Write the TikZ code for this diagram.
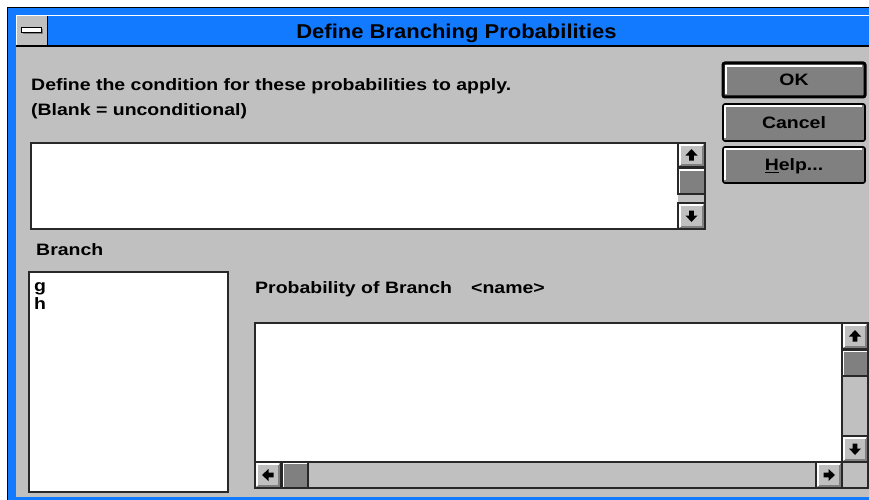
\documentclass[tikz,border=0pt]{standalone}
\usepackage{fontspec}
\setmainfont{Liberation Sans}[FakeStretch=1.18]
\newfontfamily\ttlfont{Liberation Sans}[FakeStretch=1.1]
\definecolor{wgray}{RGB}{192,192,192}
\definecolor{dgray}{RGB}{128,128,128}
\definecolor{tblue}{RGB}{18,122,255}
\definecolor{edgec}{RGB}{40,40,40}
% raised light-gray scroll button
\newcommand\sbtn[4]{%
  \fill[wgray] (#1,#2) rectangle (#3,#4);
  \draw[dgray,line width=2pt] (#1+2,#4-2) -- (#3-2,#4-2) -- (#3-2,#2+2);
  \draw[white,line width=2pt] (#1+2,#4-2) -- (#1+2,#2+2) -- (#3-2,#2+2);
  \draw[edgec,line width=1.4pt] (#1,#2) rectangle (#3,#4);}
% scroll thumb
\newcommand\thb[4]{%
  \fill[dgray] (#1,#2) rectangle (#3,#4);
  \draw[white,line width=1.5pt] (#1+1.5,#4-1) -- (#1+1.5,#2+1.5) -- (#3-1,#2+1.5);
  \draw[edgec,line width=1.4pt] (#1,#2) rectangle (#3,#4);}
% arrow glyph
\newcommand\arw[3]{%
  \fill[black,shift={(#1,#2)},rotate=#3] (0,-6) -- (6,0.5) -- (2.4,0.5) -- (2.4,5.5) -- (-2.4,5.5) -- (-2.4,0.5) -- (-6,0.5) -- cycle;}
% push button
\newcommand\pbtn[5]{%
  \fill[dgray,rounded corners=2pt] (#1,#2) rectangle (#3,#4);
  \draw[white,line width=2pt] (#1+#5/2+1.5,#4-3) -- (#1+#5/2+1.5,#2+#5/2+1.5) -- (#3-3,#2+#5/2+1.5);
  \draw[black,line width=#5pt,rounded corners=2pt] (#1,#2) rectangle (#3,#4);}
\begin{document}
\begin{tikzpicture}[x=1pt,y=-1pt,
  lbl/.style={font=\bfseries\fontsize{16.5}{16.5}\selectfont, anchor=base west, inner sep=0pt},
  btxt/.style={font=\bfseries\fontsize{16.5}{16.5}\selectfont, anchor=base, inner sep=0pt},
  ebox/.style={draw=edgec, line width=1.6pt, fill=white},
  sepl/.style={draw=edgec, line width=1.4pt}]
\useasboundingbox (0,0) rectangle (869,500);
\fill[white] (0,0) rectangle (869,500);
% window frame
\fill[black] (7,7) rectangle (880,510);
\fill[tblue] (8,8) rectangle (880,510);
\fill[wgray] (16,47) rectangle (880,497);
% title bar
\draw[white,line width=1pt] (16.5,46) -- (16.5,15.5) -- (880,15.5);
\fill[wgray] (17,16) rectangle (47,45);
\draw[black,line width=1.3pt] (47.5,16) -- (47.5,46);
\draw[black,line width=2pt] (16,46) -- (880,46);
\fill[dgray] (22.5,29.5) rectangle (43,34.5);
\draw[black,fill=white,line width=1pt] (21,28) rectangle (41.5,32.5);
\node[font=\ttlfont\bfseries\fontsize{20}{20}\selectfont, anchor=base, inner sep=0pt] (title) at (456.5,39) {Define Branching Probabilities};
% prompt text
\node[lbl] (l1) at (31,90.5) {Define the condition for these probabilities to apply.};
\node[lbl] (l2) at (31,115) {(Blank = unconditional)};
% condition edit box
\draw[ebox] (31,143) rectangle (705,229);
\fill[wgray] (678,143) rectangle (705,229);
\sbtn{678}{143}{705}{167}
\arw{691.5}{155}{0}
\thb{678}{168.5}{705}{194}
\sbtn{678}{203}{705}{229}
\arw{691.5}{216}{180}
\draw[ebox,fill=none] (31,143) rectangle (705,229);
% buttons
\pbtn{723}{63}{865}{97}{3}
\pbtn{723}{104}{865}{141}{1.6}
\pbtn{723}{147}{865}{183}{1.6}
\node[btxt] (ok) at (794,85.5) {OK};
\node[btxt] (cancel) at (794,128.5) {Cancel};
\node[btxt] (help) at (794,170.5) {\underline{H}elp...};
% branch list
\node[lbl] (branch) at (36,255) {Branch};
\draw[ebox] (29,272) rectangle (228,492);
\node[lbl] (g) at (34,291) {g};
\node[lbl] (h) at (34,309) {h};
% probability box
\node[lbl] (prob) at (255,293) {Probability of Branch};
\node[lbl] (name) at (471,293) {<name>};
\draw[ebox] (255,323) rectangle (868,488);
\fill[wgray] (842,323) rectangle (868,488);
\fill[wgray] (255,462) rectangle (868,488);
\draw[sepl] (842,323) -- (842,488);
\draw[sepl] (255,462) -- (868,462);
\sbtn{842}{323}{868}{349}
\arw{855}{336}{0}
\thb{842}{350}{868}{376}
\sbtn{842}{436}{868}{462}
\arw{855}{449}{180}
\sbtn{255}{462}{281}{488}
\arw{268}{475}{90}
\thb{282}{462}{308}{488}
\sbtn{816}{462}{842}{488}
\arw{829}{475}{-90}
\draw[ebox,fill=none] (255,323) rectangle (868,488);
\end{tikzpicture}
\end{document}
